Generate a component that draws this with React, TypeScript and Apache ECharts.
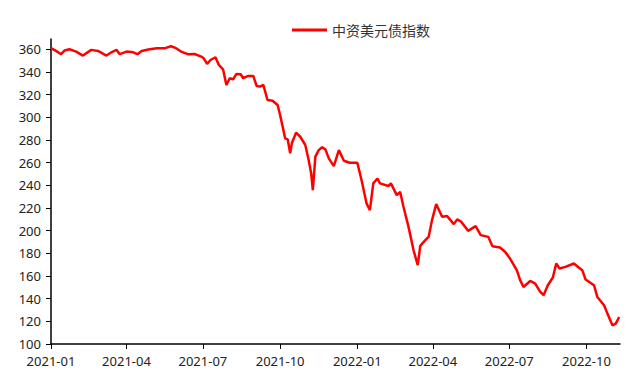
import React, { useEffect, useRef } from "react";
import * as echarts from "echarts";

const dates: string[] = [
  "2021-01-01","2021-01-07","2021-01-13","2021-01-17","2021-01-23","2021-01-31","2021-02-08","2021-02-18","2021-02-26","2021-03-08",
  "2021-03-14","2021-03-20","2021-03-24","2021-04-01","2021-04-09","2021-04-14","2021-04-19","2021-04-27","2021-05-07","2021-05-17",
  "2021-05-24","2021-05-30","2021-06-05","2021-06-13","2021-06-21","2021-06-29","2021-07-02","2021-07-06","2021-07-10","2021-07-16",
  "2021-07-20","2021-07-25","2021-07-29","2021-08-02","2021-08-06","2021-08-10","2021-08-15","2021-08-18","2021-08-24","2021-08-30",
  "2021-09-03","2021-09-07","2021-09-11","2021-09-16","2021-09-22","2021-09-28","2021-10-01","2021-10-07","2021-10-10","2021-10-13",
  "2021-10-15","2021-10-20","2021-10-25","2021-10-31","2021-11-04","2021-11-07","2021-11-09","2021-11-12","2021-11-16","2021-11-20",
  "2021-11-24","2021-11-28","2021-12-04","2021-12-10","2021-12-16","2021-12-23","2022-01-01","2022-01-06","2022-01-12","2022-01-16",
  "2022-01-20","2022-01-25","2022-01-28","2022-02-07","2022-02-10","2022-02-17","2022-02-21","2022-02-25","2022-03-03","2022-03-09",
  "2022-03-14","2022-03-17","2022-03-23","2022-03-27","2022-03-31","2022-04-05","2022-04-12","2022-04-18","2022-04-26","2022-04-30",
  "2022-05-05","2022-05-13","2022-05-22","2022-05-28","2022-06-06","2022-06-11","2022-06-20","2022-06-26","2022-07-02","2022-07-10",
  "2022-07-14","2022-07-18","2022-07-26","2022-08-01","2022-08-07","2022-08-11","2022-08-16","2022-08-22","2022-08-26","2022-08-30",
  "2022-09-06","2022-09-16","2022-09-20","2022-09-26","2022-09-30","2022-10-10","2022-10-14","2022-10-22","2022-10-26","2022-11-01",
  "2022-11-05","2022-11-09"
];

const indexValues: number[] = [
  360.9,358.5,355.6,358.8,360.0,357.9,354.4,359.4,358.5,354.4,
  357.3,359.4,355.6,357.9,357.3,355.6,358.5,359.7,360.9,360.9,
  362.6,360.9,357.9,355.6,355.8,353.5,352.0,347.0,350.5,352.9,
  346.1,342.3,328.5,334.4,333.5,338.2,337.9,334.4,336.4,336.4,
  327.6,327.0,328.5,315.2,314.6,310.8,302.0,281.4,280.5,268.2,
  277.0,286.4,282.8,275.5,262.2,250.5,235.7,265.2,271.0,273.5,
  271.7,263.7,256.9,271.0,261.6,259.9,259.9,244.6,224.0,218.0,
  241.7,246.0,241.7,239.3,241.7,231.3,234.2,221.0,203.3,182.7,
  169.5,186.5,191.6,194.5,209.2,223.4,212.2,212.8,205.7,209.9,
  207.7,199.8,204.0,196.0,194.5,186.3,185.1,181.3,175.4,165.1,
  156.3,150.3,155.6,153.3,146.0,143.0,151.8,158.6,171.0,166.6,
  168.0,171.0,168.6,165.1,156.9,151.8,141.5,134.2,126.8,116.5,
  118.0,123.8
];

const xTickLabels: string[] = ["2021-01","2021-04","2021-07","2021-10","2022-01","2022-04","2022-07","2022-10"];
const yTickLabels: number[] = [100,120,140,160,180,200,220,240,260,280,300,320,340,360];
const seriesName = "中资美元债指数";

const ts = (s: string) => {
  const [y, m, d] = s.split("-").map(Number);
  return Date.UTC(y, m - 1, d || 1);
};

export default function App() {
  const ref = useRef<HTMLDivElement>(null);
  useEffect(() => {
    if (!ref.current) return;
    const chart = echarts.init(ref.current, undefined, { renderer: "svg" });
    const xTicks = xTickLabels.map((s) => ts(s));
    const font = "'Noto Sans', 'Noto Sans CJK SC', sans-serif";
    chart.setOption({
      animation: false,
      legend: {
        left: 292,
        top: 23,
        padding: 0,
        itemWidth: 35,
        itemHeight: 3,
        itemGap: 5,
        textStyle: { fontSize: 14, color: "#333", fontFamily: "'Noto Sans CJK SC', sans-serif" },
        data: [{ name: seriesName, icon: "rect", itemStyle: { color: "#ff0000" } }],
      },
      grid: { left: 51, right: 20, top: 39, bottom: 40, containLabel: false },
      xAxis: {
        type: "value",
        min: ts("2021-01-01"),
        max: ts("2022-11-10"),
        splitLine: { show: false },
        axisLine: { lineStyle: { color: "#000", width: 1.5 } },
        axisTick: { show: true, length: 5, lineStyle: { color: "#000" }, customValues: xTicks },
        axisLabel: {
          customValues: xTicks,
          fontSize: 13,
          color: "#222",
          fontFamily: font,
          margin: 10,
          formatter: (v: number) => {
            const d = new Date(v);
            const m = d.getUTCMonth() + 1;
            return d.getUTCFullYear() + "-" + (m < 10 ? "0" + m : m);
          },
        },
      },
      yAxis: {
        type: "value",
        min: 100,
        max: 369,
        splitLine: { show: false },
        axisLine: { show: true, lineStyle: { color: "#000", width: 1.5 } },
        axisTick: { show: true, length: 5, lineStyle: { color: "#000" }, customValues: yTickLabels },
        axisLabel: { customValues: yTickLabels, fontSize: 13, color: "#222", fontFamily: font, margin: 10 },
      },
      series: [
        {
          name: seriesName,
          type: "line",
          showSymbol: false,
          symbol: "none",
          lineStyle: { color: "#ff0000", width: 2.5 },
          itemStyle: { color: "#ff0000" },
          data: dates.map((d, i) => [ts(d), indexValues[i]]),
        },
      ],
    });
    return () => chart.dispose();
  }, []);
  return <div ref={ref} style={{ width: 640, height: 384, position: "absolute", left: 0, top: 0 }} />;
}
